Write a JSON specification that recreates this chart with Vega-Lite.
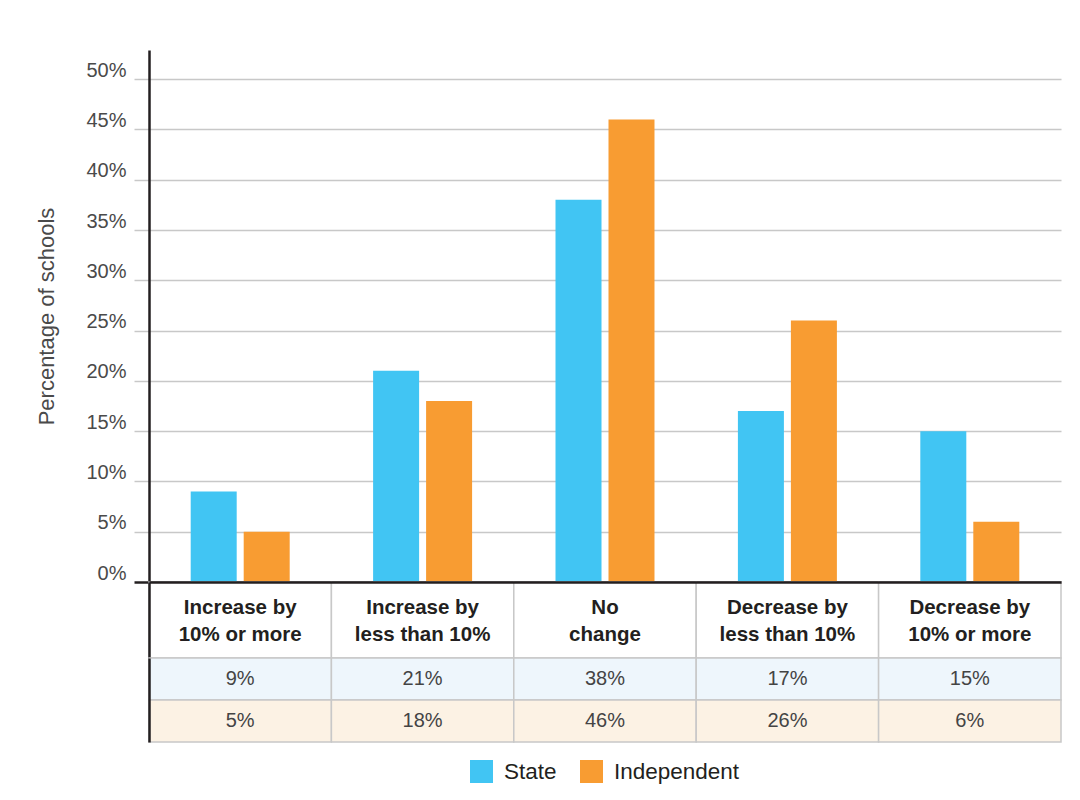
{
  "$schema": "https://vega.github.io/schema/vega-lite/v6.json",
  "background": "white",
  "padding": {"left": 35, "top": 50, "right": 19, "bottom": 10},
  "datasets": {
    "main": [
      {"category": "Increase by 10% or more", "series": "State", "value": 9},
      {"category": "Increase by 10% or more", "series": "Independent", "value": 5},
      {"category": "Increase by less than 10%", "series": "State", "value": 21},
      {"category": "Increase by less than 10%", "series": "Independent", "value": 18},
      {"category": "No change", "series": "State", "value": 38},
      {"category": "No change", "series": "Independent", "value": 46},
      {"category": "Decrease by less than 10%", "series": "State", "value": 17},
      {"category": "Decrease by less than 10%", "series": "Independent", "value": 26},
      {"category": "Decrease by 10% or more", "series": "State", "value": 15},
      {"category": "Decrease by 10% or more", "series": "Independent", "value": 6}
    ],
    "cats": [
      {"category": "Increase by 10% or more", "label": "Increase by\n10% or more"},
      {"category": "Increase by less than 10%", "label": "Increase by\nless than 10%"},
      {"category": "No change", "label": "No\nchange"},
      {"category": "Decrease by less than 10%", "label": "Decrease by\nless than 10%"},
      {"category": "Decrease by 10% or more", "label": "Decrease by\n10% or more"}
    ]
  },
  "vconcat": [
    {
      "width": 912,
      "height": 532,
      "data": {"name": "main"},
      "mark": {"type": "bar"},
      "encoding": {
        "x": {
          "field": "category", "type": "nominal",
          "scale": {"domain": ["Increase by 10% or more", "Increase by less than 10%", "No change", "Decrease by less than 10%", "Decrease by 10% or more"], "paddingInner": 0, "paddingOuter": 0},
          "axis": null
        },
        "xOffset": {
          "field": "series", "type": "nominal",
          "scale": {"domain": ["State", "Independent"], "paddingInner": 0.132, "paddingOuter": 0.787}
        },
        "y": {
          "field": "value", "type": "quantitative",
          "scale": {"domain": [0, 52.9], "nice": false},
          "axis": {
            "values": [0, 5, 10, 15, 20, 25, 30, 35, 40, 45, 50],
            "labelExpr": "datum.value + '%'",
            "labelFont": "Liberation Sans",
            "labelFontSize": 20,
            "labelColor": "#4a4a4a",
            "labelPadding": 8,
            "labelBaseline": "alphabetic",
            "labelOffset": -3,
            "tickSize": 15,
            "tickColor": {"condition": {"test": "datum.value === 0", "value": "#231f20"}, "value": "#c8c8c8"},
            "tickWidth": {"condition": {"test": "datum.value === 0", "value": 2.5}, "value": 1.5},
            "grid": true,
            "gridColor": {"condition": {"test": "datum.value === 0", "value": "#231f20"}, "value": "#c8c8c8"},
            "gridWidth": {"condition": {"test": "datum.value === 0", "value": 2.5}, "value": 1.5},
            "domainColor": "#231f20",
            "domainWidth": 2.5,
            "title": "Percentage of schools",
            "titleFont": "Liberation Sans",
            "titleFontSize": 22,
            "titleFontWeight": "normal",
            "titleColor": "#4a4a4a",
            "titlePadding": 27
          }
        },
        "color": {
          "field": "series", "type": "nominal",
          "scale": {"domain": ["State", "Independent"], "range": ["#41c5f3", "#f89c32"]},
          "legend": {
            "orient": "none",
            "legendX": 321,
            "legendY": 710,
            "direction": "horizontal",
            "title": null,
            "symbolType": "square",
            "symbolSize": 529,
            "symbolStrokeWidth": 0,
            "symbolOpacity": 1,
            "labelFont": "Liberation Sans",
            "labelFontSize": 22.5,
            "labelColor": "#231f20",
            "labelOffset": 11,
            "columnPadding": 23,
            "padding": 0
          }
        }
      }
    },
    {
      "width": 912,
      "height": 76,
      "data": {"name": "cats"},
      "layer": [
        {
          "mark": {"type": "rect", "fill": "white", "stroke": "#c8c8c8", "strokeWidth": 1.5},
          "encoding": {
            "x": {
              "field": "category", "type": "nominal",
              "scale": {"domain": ["Increase by 10% or more", "Increase by less than 10%", "No change", "Decrease by less than 10%", "Decrease by 10% or more"], "paddingInner": 0, "paddingOuter": 0},
              "axis": {"orient": "top", "labels": false, "ticks": false, "title": null, "grid": false, "domainColor": "#231f20", "domainWidth": 2.5, "zindex": 2}
            },
            "y": {
              "datum": "h", "type": "nominal",
              "scale": {"paddingInner": 0, "paddingOuter": 0},
              "axis": {"labels": false, "ticks": false, "title": null, "grid": false, "domainColor": "#231f20", "domainWidth": 2.5, "zindex": 2}
            }
          }
        },
        {
          "mark": {"type": "text", "lineBreak": "\n", "font": "Liberation Sans", "fontSize": 20.5, "fontWeight": "bold", "lineHeight": 27, "color": "#231f20", "baseline": "middle", "dy": -12},
          "encoding": {
            "x": {"field": "category", "type": "nominal"},
            "text": {"field": "label"}
          }
        }
      ]
    },
    {
      "width": 912,
      "height": 84,
      "data": {"name": "main"},
      "transform": [{"calculate": "datum.value + '%'", "as": "label"}],
      "layer": [
        {
          "mark": {"type": "rect", "stroke": "#c8c8c8", "strokeWidth": 1.5},
          "encoding": {
            "x": {
              "field": "category", "type": "nominal",
              "scale": {"domain": ["Increase by 10% or more", "Increase by less than 10%", "No change", "Decrease by less than 10%", "Decrease by 10% or more"], "paddingInner": 0, "paddingOuter": 0},
              "axis": null
            },
            "y": {
              "field": "series", "type": "nominal",
              "scale": {"domain": ["State", "Independent"], "paddingInner": 0, "paddingOuter": 0},
              "axis": {"labels": false, "ticks": false, "title": null, "grid": false, "domainColor": "#231f20", "domainWidth": 2.5, "zindex": 2}
            },
            "fill": {"condition": {"test": "datum.series === 'State'", "value": "#eef6fc"}, "value": "#fcf2e4"}
          }
        },
        {
          "mark": {"type": "text", "font": "Liberation Sans", "fontSize": 20, "color": "#444444"},
          "encoding": {
            "x": {"field": "category", "type": "nominal"},
            "y": {"field": "series", "type": "nominal"},
            "text": {"field": "label"}
          }
        }
      ]
    }
  ],
  "spacing": 0,
  "bounds": "flush",
  "config": {
    "view": {"stroke": null},
    "font": "Liberation Sans"
  }
}
